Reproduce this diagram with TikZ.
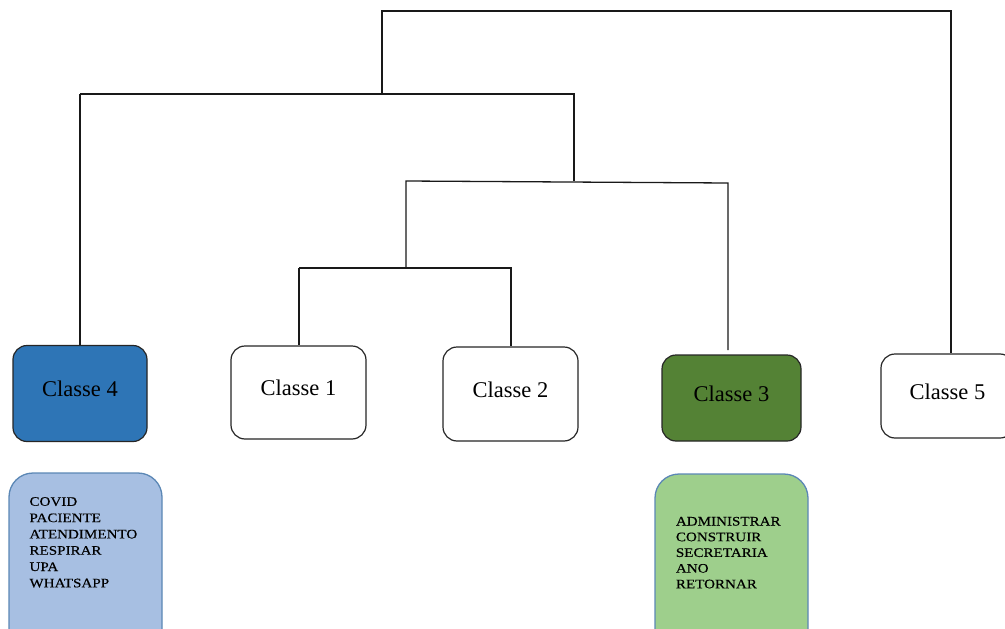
\documentclass[tikz,border=0pt]{standalone}
\usepackage{fontspec}
\setmainfont{Liberation Serif}
\definecolor{c4blue}{HTML}{2E75B6}
\definecolor{c3green}{HTML}{548235}
\definecolor{lblue}{HTML}{A7BFE2}
\definecolor{lgreen}{HTML}{9ECF8C}
\definecolor{wborder}{HTML}{5B87B5}
\begin{document}
\begin{tikzpicture}[x=1pt,y=-1pt,
  clsbox/.style={draw=black!85, line width=1.2pt, rounded corners=14pt, inner sep=0pt,
    font=\fontsize{22.5}{26}\selectfont, text depth=9pt},
  wordbox/.style={draw=wborder, line width=1.3pt, rounded corners=24pt, inner sep=0pt},
  wordtext/.style={inner sep=0pt, align=left, anchor=north west,
    font=\fontsize{13}{16.3}\selectfont\addfontfeature{FakeStretch=1.16,FakeBold=0.4}},
  link/.style={draw=black!90, line width=1.3pt}]
\useasboundingbox (0,0) rectangle (1005,629);
\clip (0,0) rectangle (1005,629);
% class boxes
\node[clsbox, fill=c4blue, minimum width=134pt, minimum height=96pt] (c4) at (80,393.5) {Classe 4};
\node[clsbox, fill=white, minimum width=135pt, minimum height=93pt] (c1) at (298.5,392.5) {Classe 1};
\node[clsbox, fill=white, minimum width=135pt, minimum height=94pt] (c2) at (510.5,394) {Classe 2};
\node[clsbox, fill=c3green, minimum width=139pt, minimum height=86pt] (c3) at (731.5,398) {Classe 3};
\node[clsbox, fill=white, minimum width=133pt, minimum height=84pt] (c5) at (947.5,396) {Classe 5};
% word boxes
\node[wordbox, fill=lblue, minimum width=153pt, minimum height=180pt] (w4) at (85.5,563) {};
\node[wordbox, fill=lgreen, minimum width=153pt, minimum height=180pt] (w3) at (731.5,564) {};
\node[wordtext] (t4) at (29.3,497) {COVID\\PACIENTE\\ATENDIMENTO\\RESPIRAR\\UPA\\WHATSAPP};
\node[wordtext, font=\fontsize{13}{15.7}\selectfont\addfontfeature{FakeStretch=1.16,FakeBold=0.4}] (t3) at (675.7,516.7) {ADMINISTRAR\\CONSTRUIR\\SECRETARIA\\ANO\\RETORNAR};
% dendrogram junctions
\coordinate (topL) at (382,11);
\coordinate (topR) at (951,11);
\coordinate (j4m) at (382,94);
\coordinate (j4L) at (80,94);
\coordinate (j4R) at (574,94);
\coordinate (j3m) at (574,181);
\coordinate (j3L) at (406,181);
\coordinate (j3R) at (728,183);
\coordinate (c3top) at (728,350);
\coordinate (j12m) at (406,268);
\coordinate (j12L) at (299,268);
\coordinate (j12R) at (511,268);
\draw[link] (j4m) -- (topL) -- (topR) -- (topR |- c5.north);
\draw[link] (j4L -| c4.north) -- (j4R) -- (j3m);
\draw[link] (j4L -| c4.north) -- (c4.north);
\draw[link] (j12m) -- (j3L) -- (j3R) -- (c3top);
\draw[link] (j12L) -- (j12R) -- (j12R |- c2.north);
\draw[link] (j12L) -- (j12L |- c1.north);
\end{tikzpicture}
\end{document}
